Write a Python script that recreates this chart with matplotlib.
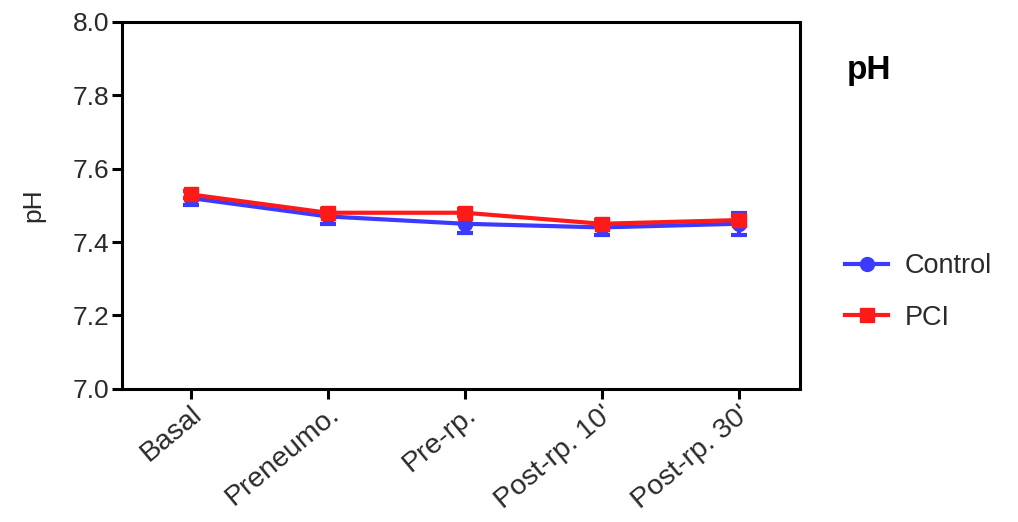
import matplotlib
matplotlib.use("Agg")
import matplotlib.pyplot as plt
from matplotlib.lines import Line2D
import numpy as np

# pH over the protocol stages, mean +/- SEM
stages = ["Basal", "Preneumo.", "Pre-rp.", "Post-rp. 10'", "Post-rp. 30'"]
control_mean = [7.52, 7.47, 7.45, 7.44, 7.45]
control_err = [0.02, 0.02, 0.025, 0.02, 0.03]
pci_mean = [7.53, 7.48, 7.48, 7.45, 7.46]
pci_err = [0.01, 0.01, 0.01, 0.01, 0.01]

BLUE = "#3b3bff"
RED = "#ff1a1a"
TXT = "#2a2a2a"

plt.rcParams["font.family"] = ["Liberation Sans", "DejaVu Sans"]

fig = plt.figure(figsize=(10.18, 5.22), dpi=100)
ax = fig.add_axes([0.12, 0.255, 0.666, 0.703])

x = np.arange(len(stages))
ax.errorbar(x, control_mean, yerr=control_err, color=BLUE, marker="o", ms=10,
            lw=3, capsize=6, capthick=3, elinewidth=3, zorder=2)
ax.errorbar(x, pci_mean, yerr=pci_err, color=RED, marker="s", ms=10.5,
            lw=3, capsize=6, capthick=3, elinewidth=3, zorder=3)

ax.set_xlim(-0.5, 4.45)
ax.set_ylim(7.0, 8.0)
ax.set_yticks([7.0, 7.2, 7.4, 7.6, 7.8, 8.0])
ax.set_yticklabels([f"{v:.1f}" for v in ax.get_yticks()], fontsize=19, color=TXT)
ax.set_xticks(x)
ax.set_xticklabels(stages, rotation=40, ha="right", rotation_mode="anchor",
                   fontsize=20.5, color=TXT)
ax.set_ylabel("pH", fontsize=19, color=TXT, labelpad=20)
for s in ax.spines.values():
    s.set_linewidth(2.2)
ax.tick_params(width=2.2, length=7, pad=2)

fig.text(0.832, 0.865, "pH", fontsize=24, fontweight="bold", ha="left", va="center")

handles = [
    Line2D([], [], color=BLUE, marker="o", ms=10, lw=3, label="Control"),
    Line2D([], [], color=RED, marker="s", ms=10.5, lw=3, label="PCI"),
]
ax.legend(handles=handles, loc="center left", bbox_to_anchor=(1.03, 0.264),
          frameon=False, fontsize=19.5, handlelength=1.6, handletextpad=0.6,
          labelspacing=0.95, labelcolor=TXT)

fig.savefig("out.png", dpi=100)
